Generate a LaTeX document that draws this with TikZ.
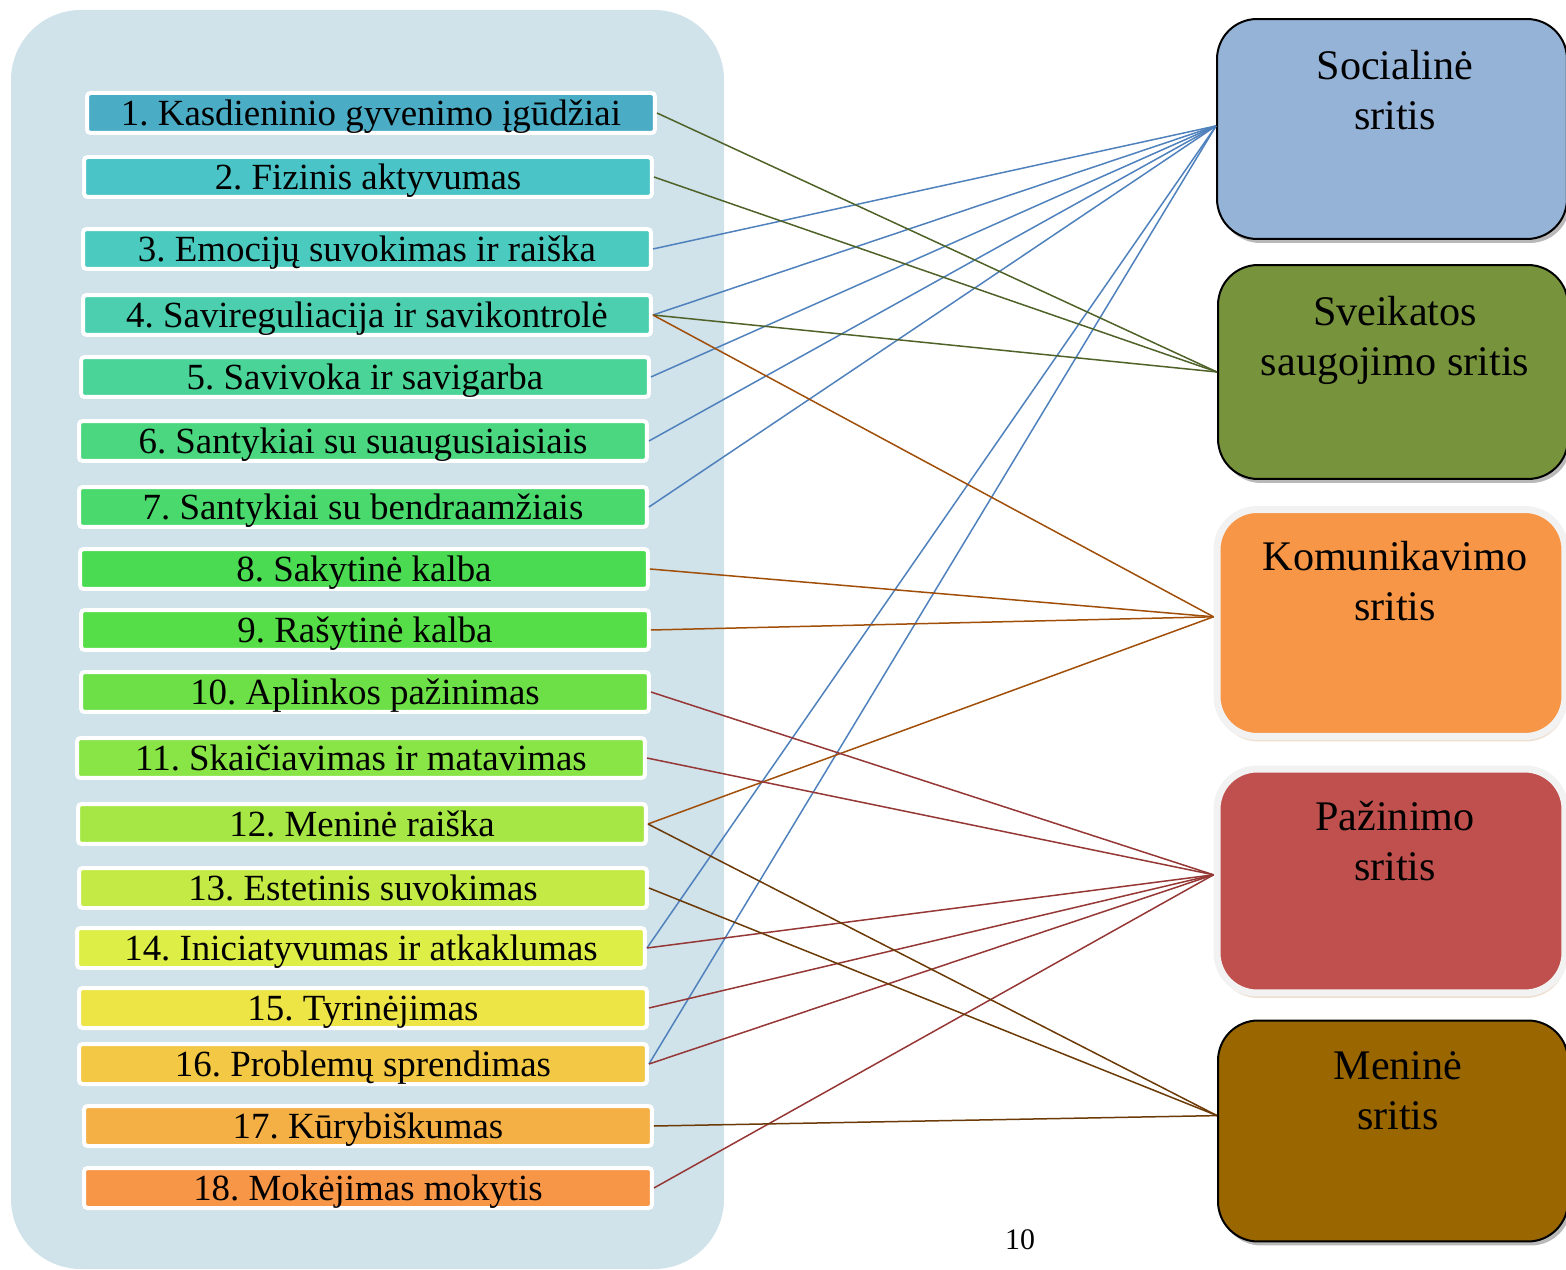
\documentclass[tikz,border=0pt]{standalone}
\usepackage{fontspec}
\setmainfont{Liberation Serif}
\usetikzlibrary{shadows}

\definecolor{fonas}{HTML}{D0E2EA}
\definecolor{sp1}{HTML}{4BACC6}
\definecolor{sp2}{HTML}{4BC4C8}
\definecolor{sp3}{HTML}{4BCBBF}
\definecolor{sp4}{HTML}{4BCFAE}
\definecolor{sp5}{HTML}{4AD497}
\definecolor{sp6}{HTML}{4AD77F}
\definecolor{sp7}{HTML}{4AD96C}
\definecolor{sp8}{HTML}{4ADB52}
\definecolor{sp9}{HTML}{55DE47}
\definecolor{sp10}{HTML}{6CE046}
\definecolor{sp11}{HTML}{89E446}
\definecolor{sp12}{HTML}{A6E746}
\definecolor{sp13}{HTML}{C3EA45}
\definecolor{sp14}{HTML}{DDEE47}
\definecolor{sp15}{HTML}{EDE446}
\definecolor{sp16}{HTML}{F2C845}
\definecolor{sp17}{HTML}{F4AF45}
\definecolor{sp18}{HTML}{F79646}
\definecolor{socf}{HTML}{95B3D7}
\definecolor{sveikf}{HTML}{77933C}
\definecolor{komf}{HTML}{F79646}
\definecolor{pazf}{HTML}{C0504D}
\definecolor{menf}{HTML}{996600}
\definecolor{socl}{HTML}{4F81BD}
\definecolor{sveikl}{HTML}{4F6228}
\definecolor{koml}{HTML}{A04E08}
\definecolor{pazl}{HTML}{953735}
\definecolor{menl}{HTML}{6B3A06}

\begin{document}
\frenchspacing
\begin{tikzpicture}[x=0.02cm,y=-0.02cm,
  gebeja/.style={draw=white, line width=0.08cm, rounded corners=2pt, minimum width=11.36cm, minimum height=0.8cm, inner sep=0pt, text height=14.3pt, text depth=0pt, font=\fontsize{21}{25}\selectfont},
  sritis/.style={draw=black, line width=0.04cm, rounded corners=0.8cm, minimum width=7cm, drop shadow={shadow xshift=0.06cm, shadow yshift=-0.08cm, fill=black!55}},
  sritis2/.style={draw=black!5, line width=0.14cm, rounded corners=0.8cm, minimum width=6.96cm, drop shadow={shadow xshift=0.02cm, shadow yshift=-0.1cm, fill=brown!50}},
  pavad/.style={anchor=north, align=center, inner sep=0pt, font=\fontsize{24}{28.5}\selectfont},
  jungtis/.style={line width=0.03cm}]

\clip (0,0) rectangle (1566,1270);

% fonas
\fill[fonas, rounded corners=1.4cm] (11,10) rectangle (724,1269);

% gebejimai
\foreach \i/\x/\y/\txt in {1/371/113/Kasdieninio gyvenimo įgūdžiai, 2/368/177/Fizinis aktyvumas,
  3/367/249/Emocijų suvokimas ir raiška, 4/367/315/Savireguliacija ir savikontrolė,
  5/365/377/Savivoka ir savigarba, 6/363/441/Santykiai su suaugusiaisiais,
  7/363/507/Santykiai su bendraamžiais, 8/364/569/Sakytinė kalba,
  9/365/630/Rašytinė kalba, 10/365/692/Aplinkos pažinimas,
  11/361/758/Skaičiavimas ir matavimas, 12/362/824/Meninė raiška,
  13/363/888/Estetinis suvokimas, 14/361/948/Iniciatyvumas ir atkaklumas,
  15/363/1008/Tyrinėjimas, 16/363/1064/Problemų sprendimas,
  17/368/1126/Kūrybiškumas, 18/368/1188/Mokėjimas mokytis}{
  \node[gebeja, fill=sp\i] (k\i) at (\x,\y) {\i. \txt};
}

% sritys
\node[sritis, fill=socf, minimum height=4.4cm] (soc) at (1392,129) {};
\node[pavad] at (1395,50) {Socialinė\\sritis};
\node[sritis, fill=sveikf, minimum height=4.28cm] (sveik) at (1393,372) {};
\node[pavad] at (1395,296) {Sveikatos\\saugojimo sritis};
\node[sritis2, fill=komf, minimum height=4.54cm] (kom) at (1391,623) {};
\node[pavad] at (1395,541) {Komunikavimo\\sritis};
\node[sritis2, fill=pazf, minimum height=4.48cm] (paz) at (1391,881) {};
\node[pavad] at (1395,801) {Pažinimo\\sritis};
\node[sritis, fill=menf, minimum height=4.42cm] (men) at (1393,1131) {};
\node[pavad] at (1398,1051) {Meninė\\sritis};

% jungtys
\foreach \i in {3,4,5,6,7,14,16} \draw[jungtis, socl] (k\i.east) -- (soc.179);
\foreach \i in {1,2,4} \draw[jungtis, sveikl] (k\i.east) -- (sveik.180);
\foreach \i in {4,8,9,12} \draw[jungtis, koml] (k\i.east) -- (kom.178);
\foreach \i in {10,11,14,15,16,18} \draw[jungtis, pazl] (k\i.east) -- (paz.178);
\foreach \i in {12,13,17} \draw[jungtis, menl] (k\i.east) -- (men.175);

\node[font=\fontsize{17}{20}\selectfont] (psl) at (1020,1240) {10};
\end{tikzpicture}
\end{document}
